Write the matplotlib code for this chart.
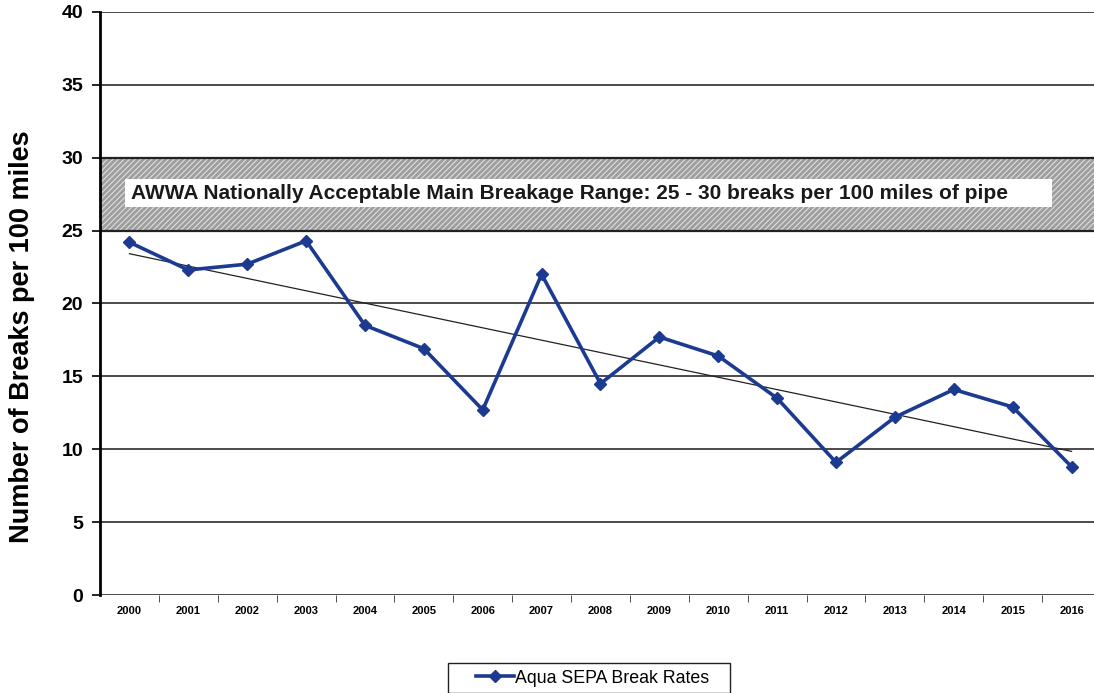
import numpy as np
import matplotlib
matplotlib.use('Agg')
import matplotlib.pyplot as plt
from matplotlib.patches import Rectangle

years = ['2000', '2001', '2002', '2003', '2004', '2005', '2006', '2007', '2008',
         '2009', '2010', '2011', '2012', '2013', '2014', '2015', '2016']
break_rates = [24.2, 22.3, 22.7, 24.3, 18.5, 16.9, 12.7, 22.0, 14.5,
               17.7, 16.4, 13.5, 9.1, 12.2, 14.1, 12.9, 8.8]
awwa_low, awwa_high = 25, 30
y_ticks = [0, 5, 10, 15, 20, 25, 30, 35, 40]

plt.rcParams['font.family'] = ['Liberation Sans', 'DejaVu Sans']
plt.rcParams['hatch.linewidth'] = 0.8

fig = plt.figure(figsize=(10.94, 6.93), dpi=100)
ax = fig.add_axes([0.0914, 0.1414, 0.915, 0.8413])

x = np.arange(len(years))

# acceptable range band
ax.axhspan(awwa_low, awwa_high, facecolor='#9e9e9e', edgecolor='#dedede',
           hatch='//////', linewidth=0, zorder=1)
ax.axhspan(awwa_low, awwa_high, fill=False, edgecolor='#222222',
           linewidth=1.6, zorder=2)
ax.add_patch(Rectangle((-0.07, 26.6), 15.74, 1.95, facecolor='white',
                       edgecolor='none', zorder=3))
ax.text(0.02, 27.55,
        'AWWA Nationally Acceptable Main Breakage Range: 25 - 30 breaks per 100 miles of pipe',
        fontsize=15, fontweight='bold', color='#1a1a1a', va='center', ha='left', zorder=4)

# gridlines
for yt in y_ticks:
    if yt not in (awwa_low, awwa_high):
        ax.axhline(yt, color='#1a1a1a', linewidth=1.1, zorder=1)

# data and linear trend
ax.plot(x, break_rates, color='#1c3a8f', linewidth=2.6, marker='D',
        markersize=6, zorder=5, label='Aqua SEPA Break Rates')
coef = np.polyfit(x, break_rates, 1)
ax.plot(x, np.polyval(coef, x), color='#222222', linewidth=0.9, zorder=4)

ax.set_xlim(-0.5, len(years) - 0.5)
ax.set_ylim(0, 40)
ax.set_yticks(y_ticks)
ax.set_yticklabels([str(v) for v in y_ticks], fontsize=14, fontweight='bold')
ax.set_xticks(x)
ax.set_xticklabels(years, fontsize=8, fontweight='bold')
ax.set_xticks(x[:-1] + 0.5, minor=True)
ax.tick_params(axis='x', which='major', length=0, pad=8)
ax.tick_params(axis='x', which='minor', length=5, direction='out', color='#333333')
ax.tick_params(axis='y', length=6, width=1.2, direction='out', pad=6)

for side in ('top', 'right', 'bottom'):
    ax.spines[side].set_visible(False)
ax.spines['left'].set_linewidth(2)

ax.set_ylabel('Number of Breaks per 100 miles', fontsize=19.5, fontweight='bold')
ax.yaxis.set_label_coords(-0.065, 0.4425)

# legend with a wider frame like the original
fig.legend(loc='center', bbox_to_anchor=(0.542, 0.0216), fontsize=12.8, frameon=False,
           handlelength=2.1, handletextpad=0.1)
fig.patches.append(Rectangle((448 / 1094, 0.0), 282 / 1094, 30 / 693,
                             transform=fig.transFigure, fill=False,
                             edgecolor='#222222', linewidth=1.0))

fig.savefig('out.png', dpi=100)
